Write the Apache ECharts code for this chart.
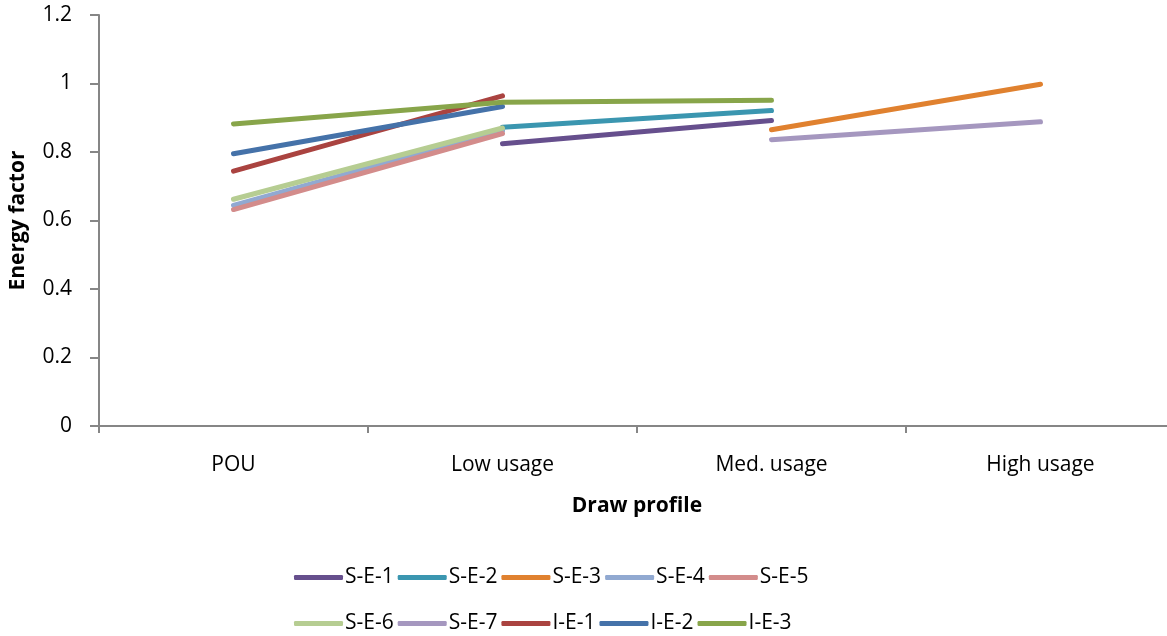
<!DOCTYPE html>
<html>
<head>
<meta charset="utf-8">
<script src="https://cdn.jsdelivr.net/npm/echarts@6/dist/echarts.min.js"></script>
<style>html,body{margin:0;padding:0;background:#fff}#c{width:1167px;height:636px}</style>
</head>
<body>
<div id="c"></div>
<script>
const categories = ['POU', 'Low usage', 'Med. usage', 'High usage'];
const seriesNames = ['S-E-1','S-E-2','S-E-3','S-E-4','S-E-5','S-E-6','S-E-7','I-E-1','I-E-2','I-E-3'];
const SE1 = [null, 0.824, 0.892, null];
const SE2 = [null, 0.872, 0.921, null];
const SE3 = [null, null, 0.865, 0.998];
const SE4 = [0.644, 0.862, null, null];
const SE5 = [0.632, 0.854, null, null];
const SE6 = [0.662, 0.870, null, null];
const SE7 = [null, null, 0.836, 0.888];
const IE1 = [0.744, 0.964, null, null];
const IE2 = [0.795, 0.933, null, null];
const IE3 = [0.882, 0.945, 0.951, null];
const seriesValues = [SE1, SE2, SE3, SE4, SE5, SE6, SE7, IE1, IE2, IE3];
const colors = ['#664F8D','#3B96B0','#E0812F','#91A9D1','#D38C8B','#B6CD92','#A597BF','#AA4340','#4572A9','#88A54A'];
const yTicks = { min: 0, max: 1.2, interval: 0.2 };
const drawOrder = [3,4,5,0,1,2,6,7,8,9];

const font = '"Open Sans", sans-serif';
const chart = echarts.init(document.getElementById('c'), null, { renderer: 'canvas' });
const series = drawOrder.map(i => ({
  name: seriesNames[i],
  type: 'line',
  data: seriesValues[i],
  showSymbol: false,
  symbol: 'none',
  connectNulls: false,
  z: 2 + i,
  lineStyle: { width: 5, color: colors[i], cap: 'round', join: 'round' },
  itemStyle: { color: colors[i] },
  emphasis: { disabled: true }
}));
const legendCommon = {
  orient: 'horizontal',
  icon: 'roundRect',
  itemWidth: 49,
  itemHeight: 5,
  itemGap: 4,
  textStyle: { fontFamily: font, fontSize: 21, color: '#000', padding: [0, 0, 0, -3] },
  selectedMode: false
};
chart.setOption({
  animation: false,
  color: colors,
  grid: { left: 99, right: -8, top: 15, bottom: 210, containLabel: false, outerBoundsMode: 'none' },
  legend: [
    Object.assign({}, legendCommon, { data: seriesNames.slice(0, 5), left: 289, top: 562 }),
    Object.assign({}, legendCommon, { data: seriesNames.slice(5), left: 289, top: 608 })
  ],
  xAxis: {
    type: 'category',
    data: categories,
    boundaryGap: true,
    name: 'Draw profile',
    nameLocation: 'middle',
    nameGap: 70,
    nameTextStyle: { fontFamily: font, fontSize: 21, fontWeight: 'bold', color: '#000' },
    axisLine: { lineStyle: { color: '#868686', width: 2 } },
    axisTick: { show: true, length: 7, inside: false, alignWithLabel: false, lineStyle: { color: '#868686', width: 2 } },
    axisLabel: { fontFamily: font, fontSize: 21, color: '#000', margin: 29 },
    splitLine: { show: false }
  },
  yAxis: {
    type: 'value',
    min: yTicks.min, max: yTicks.max, interval: yTicks.interval,
    name: 'Energy factor',
    nameLocation: 'middle',
    nameGap: 70,
    nameRotate: 90,
    nameTextStyle: { fontFamily: font, fontSize: 21, fontWeight: 'bold', color: '#000' },
    axisLine: { show: true, lineStyle: { color: '#868686', width: 2 } },
    axisTick: { show: true, length: 9, inside: false, lineStyle: { color: '#868686', width: 2 } },
    axisLabel: { fontFamily: font, fontSize: 21, color: '#000', margin: 27, formatter: v => String(+v.toFixed(1)) },
    splitLine: { show: false }
  },
  series: series
});
</script>
</body>
</html>
